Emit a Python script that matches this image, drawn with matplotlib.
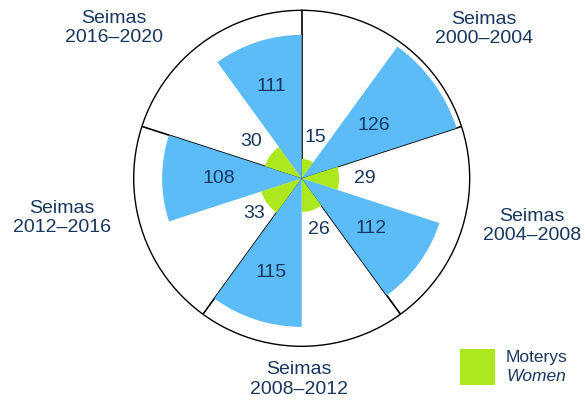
import numpy as np
import matplotlib
matplotlib.use("Agg")
import matplotlib.pyplot as plt
from matplotlib.patches import Rectangle

# ---- data ----
terms = ["Seimas\n2000–2004", "Seimas\n2004–2008", "Seimas\n2008–2012",
         "Seimas\n2012–2016", "Seimas\n2016–2020"]
women = [15, 29, 26, 33, 30]
men = [126, 112, 115, 108, 111]
legend_lines = ["Moterys", "Women"]

# ---- style ----
BLUE = "#5BBCF8"
GREEN = "#ADE81E"
TXT = "#17375E"
plt.rcParams['font.family'] = ['Liberation Sans', 'DejaVu Sans']

W, H = 585, 401
fig = plt.figure(figsize=(W / 100, H / 100), dpi=100)
cx, cy, R = 301.7, 178.3, 168
ax = fig.add_axes([(cx - R) / W, (H - cy - R) / H, 2 * R / W, 2 * R / H],
                  projection='polar')
ax.set_theta_zero_location('N')
ax.set_theta_direction(-1)
rmax = 130
ax.set_ylim(0, rmax)

n = len(terms)
sector = 2 * np.pi / n
half = sector / 2
starts = np.arange(n) * sector

# divider lines (beneath bars)
for s in starts:
    ax.plot([s, s], [0, rmax], color='black', lw=1.2, zorder=1, solid_capstyle='butt')

ax.bar(starts + half / 2, women, width=half, color=GREEN, edgecolor='none', zorder=2)
ax.bar(starts + half + half / 2, men, width=half, color=BLUE, edgecolor='none', zorder=2)

# value labels
women_r = [33, 48.5, 42, 46, 48]
men_r = [69, 66.5, 77, 64, 75]
for i in range(n):
    ax.text(starts[i] + half / 2, women_r[i], str(women[i]), ha='center', va='center',
            fontsize=14, color=TXT, zorder=5)
    ax.text(starts[i] + half * 1.5, men_r[i], str(men[i]), ha='center', va='center',
            fontsize=14, color=TXT, zorder=5)

ax.grid(False)
ax.set_xticks([])
ax.set_yticks([])
ax.spines['polar'].set_color('black')
ax.spines['polar'].set_linewidth(1.0)

# term labels (figure pixel positions)
term_pos = [(484, 29), (532, 226), (299, 379.5), (62, 218), (114, 28)]
for t, (x, y) in zip(terms, term_pos):
    fig.text(x / W, 1 - y / H, t, ha='center', va='center', fontsize=14,
             color=TXT, linespacing=1.22, multialignment='center')

# legend
fig.patches.append(Rectangle((460 / W, 1 - 385 / H), 35 / W, 36 / H,
                             transform=fig.transFigure, facecolor=GREEN,
                             edgecolor='none'))
fig.text(506 / W, 1 - 357.7 / H, legend_lines[0], ha='left', va='center',
         fontsize=12.5, color=TXT)
fig.text(506 / W, 1 - 376.7 / H, legend_lines[1], ha='left', va='center',
         fontsize=12.5, color=TXT, style='italic')

fig.savefig("out.png", dpi=100)
